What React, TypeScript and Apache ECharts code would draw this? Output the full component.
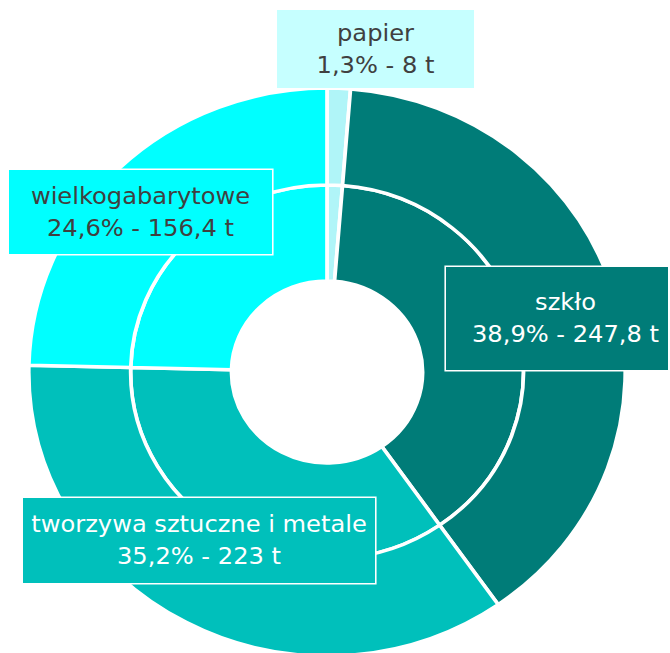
import React, { useEffect, useRef } from "react";
import * as echarts from "echarts";

const categories = ["papier", "szkło", "tworzywa sztuczne i metale", "wielkogabarytowe"];
const tonnes = [8, 247.8, 223, 156.4];
const percents = [1.3, 38.9, 35.2, 24.6];

const sliceColors = ["#B0F5F8", "#007C78", "#00C0BB", "#00FFFF"];
const boxColors = ["#C6FFFF", "#007C78", "#00C0BB", "#00FFFF"];
const textColors = ["#404040", "#FFFFFF", "#FFFFFF", "#404040"];

// horizontal stretch of the reference picture
const SX = 1.05;

// label boxes in page pixels
const labelBoxes = [
  { cx: 375.5, cy: 49, w: 197, pt: 10, pb: 4, pl: 0, pr: 0 },
  { cx: 557, cy: 318.5, w: 222, pt: 22.5, pb: 16.5, pl: 17, pr: 0 },
  { cx: 199, cy: 540.5, w: 352, pt: 14.5, pb: 6.5, pl: 0, pr: 0 },
  { cx: 140.5, cy: 212, w: 263, pt: 12, pb: 8, pl: 0, pr: 0 },
];

const fmt = (v: number) => String(v).replace(".", ",");

export default function App() {
  const ref = useRef<HTMLDivElement>(null);

  useEffect(() => {
    if (!ref.current) return;
    const chart = echarts.init(ref.current, null, { renderer: "svg" });

    const data = categories.map((name, i) => ({
      name,
      value: tonnes[i],
      itemStyle: { color: sliceColors[i] },
      label: {
        color: textColors[i],
        backgroundColor: boxColors[i],
        borderColor: "#FFFFFF",
        borderWidth: 1.5,
        width: (labelBoxes[i].w - labelBoxes[i].pl - labelBoxes[i].pr) / SX,
        padding: [
          labelBoxes[i].pt,
          labelBoxes[i].pr / SX,
          labelBoxes[i].pb,
          labelBoxes[i].pl / SX,
        ],
      },
    }));

    const innerData = categories.map((name, i) => ({
      name,
      value: tonnes[i],
      itemStyle: { color: sliceColors[i] },
    }));

    const center = [327 / SX, 372];

    chart.setOption({
      animation: false,
      series: [
        {
          type: "pie",
          name: "inner",
          radius: [91, 187],
          center,
          startAngle: 90,
          clockwise: true,
          silent: true,
          label: { show: false },
          labelLine: { show: false },
          emphasis: { disabled: true },
          itemStyle: { borderColor: "#FFFFFF", borderWidth: 3.5 },
          data: innerData,
        },
        {
          type: "pie",
          name: "outer",
          radius: [187, 284],
          center,
          startAngle: 90,
          clockwise: true,
          silent: true,
          avoidLabelOverlap: false,
          emphasis: { disabled: true },
          itemStyle: { borderColor: "#FFFFFF", borderWidth: 3.5 },
          label: {
            show: true,
            position: "inside",
            fontFamily: "DejaVu Sans",
            fontSize: 23,
            lineHeight: 32,
            align: "center",
            overflow: "none",
            formatter: (p: any) =>
              `${categories[p.dataIndex]}\n${fmt(percents[p.dataIndex])}% - ${fmt(tonnes[p.dataIndex])} t`,
          },
          labelLine: { show: false },
          labelLayout: (p: any) => {
            const b = labelBoxes[p.dataIndex];
            return {
              x: b.cx / SX,
              y: b.cy,
              align: "center",
              verticalAlign: "middle",
            };
          },
          data,
        },
      ],
    });

    return () => chart.dispose();
  }, []);

  return (
    <div
      style={{
        position: "fixed",
        left: 0,
        top: 0,
        width: 670,
        height: 653,
        overflow: "hidden",
        background: "#FFFFFF",
      }}
    >
      <div
        ref={ref}
        style={{
          width: 670 / SX,
          height: 653,
          transform: `scaleX(${SX})`,
          transformOrigin: "0 0",
        }}
      />
    </div>
  );
}
